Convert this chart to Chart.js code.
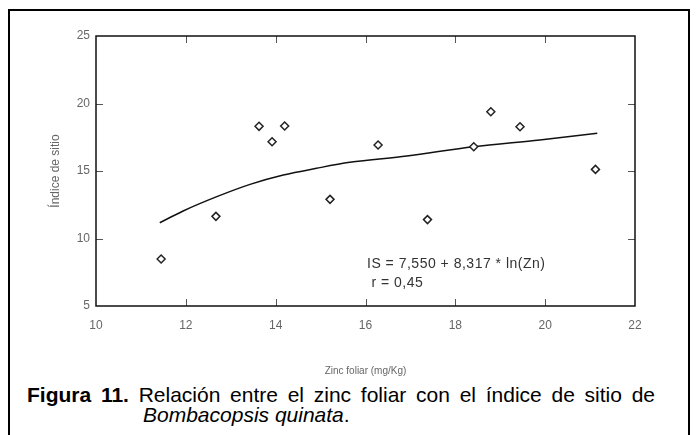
<!DOCTYPE html>
<html>
<head>
<meta charset="utf-8">
<script src="https://cdn.jsdelivr.net/npm/chart.js@4"></script>
<style>
  html, body { margin: 0; padding: 0; background: #fff; }
  body { width: 696px; height: 435px; position: relative; overflow: hidden; font-family: "Liberation Sans", Arial, sans-serif; }
  #frame { position: absolute; left: 8px; top: 9px; width: 678px; height: 440px; border: 2px solid #000; border-bottom: none; }
  #wrap { position: absolute; left: 0; top: 0; width: 696px; height: 377px; }
  #eq { position: absolute; left: 367px; top: 254px; font-size: 14px; line-height: 19px; letter-spacing: 0.5px; color: #333; white-space: pre; }
  #caption { position: absolute; left: 27px; top: 385px; width: 512px; padding-left: 116px; text-indent: -116px;
             font-size: 21px; line-height: 20px; text-align: justify; color: #000; }
</style>
</head>
<body>
<div id="frame"></div>
<div id="wrap"><canvas id="zincChart"></canvas></div>
<div id="eq">IS = 7,550 + 8,317 * ln(Zn)
 r = 0,45</div>
<div id="caption"><b>Figura 11.</b> Relación entre el zinc foliar con el índice de sitio de <i>Bombacopsis quinata</i>.</div>
<script>
// puntos observados (zinc foliar vs índice de sitio)
const zincX = [11.45, 12.67, 13.63, 13.92, 14.2, 15.21, 16.28, 17.38, 18.41, 18.79, 19.44, 21.12];
const sitioY = [8.48, 11.64, 18.31, 17.17, 18.33, 12.9, 16.93, 11.4, 16.8, 19.39, 18.28, 15.12];

// curva ajustada
const curveX = [11.42, 11.94, 12.69, 13.43, 14.17, 14.91, 15.65, 16.92, 18.4, 19.88, 21.16];
const curveY = [11.17, 12.04, 13.1, 14.01, 14.7, 15.2, 15.64, 16.11, 16.8, 17.3, 17.79];

const xTicks = [10, 12, 14, 16, 18, 20, 22];
const yTicks = [5, 10, 15, 20, 25];

// caja del gráfico con marcas hacia dentro en los cuatro lados
const boxPlugin = {
    id: 'boxTicks',
    afterDatasetsDraw(chart) {
        const { ctx, chartArea: a, scales } = chart;
        const len = 7;
        ctx.save();
        ctx.strokeStyle = '#555';
        ctx.lineWidth = 1;
        ctx.beginPath();
        xTicks.slice(1, -1).forEach(v => {
            const px = Math.round(scales.x.getPixelForValue(v)) + 0.5;
            ctx.moveTo(px, a.bottom); ctx.lineTo(px, a.bottom - len);
            ctx.moveTo(px, a.top); ctx.lineTo(px, a.top + len);
        });
        yTicks.slice(1, -1).forEach(v => {
            const py = Math.round(scales.y.getPixelForValue(v)) + 0.5;
            ctx.moveTo(a.left, py); ctx.lineTo(a.left + len, py);
            ctx.moveTo(a.right, py); ctx.lineTo(a.right - len, py);
        });
        ctx.stroke();
        ctx.strokeStyle = '#111';
        ctx.lineWidth = 1.5;
        ctx.strokeRect(a.left, a.top, a.right - a.left, a.bottom - a.top);
        ctx.restore();
    }
};

Chart.defaults.font.family = '"Liberation Sans", Arial, sans-serif';

const ctx = document.getElementById('zincChart').getContext('2d');
new Chart(ctx, {
    type: 'scatter',
    data: {
        datasets: [
            {
                label: 'ajuste',
                data: curveX.map((x, i) => ({ x: x, y: curveY[i] })),
                showLine: true,
                borderColor: '#111',
                borderWidth: 1.5,
                pointRadius: 0,
                cubicInterpolationMode: 'monotone',
                order: 2
            },
            {
                label: 'observado',
                data: zincX.map((x, i) => ({ x: x, y: sitioY[i] })),
                pointStyle: 'rectRot',
                pointRadius: 4,
                pointBorderWidth: 1.5,
                pointBackgroundColor: '#fff',
                pointBorderColor: '#222',
                order: 1
            }
        ]
    },
    options: {
        responsive: true,
        maintainAspectRatio: false,
        animation: false,
        layout: { padding: { left: 48, top: 36, right: 61, bottom: 0 } },
        plugins: { legend: { display: false }, tooltip: { enabled: false } },
        scales: {
            x: {
                min: 10, max: 22,
                afterFit: scale => { scale.height = 71; },
                afterBuildTicks: scale => { scale.ticks = xTicks.map(v => ({ value: v })); },
                grid: { display: false, drawTicks: false },
                border: { display: false },
                ticks: { color: '#666', font: { size: 12 }, padding: 12 },
                title: { display: true, text: 'Zinc foliar (mg/Kg)', color: '#666', font: { size: 10 }, padding: 0 }
            },
            y: {
                min: 5, max: 25,
                afterFit: scale => { scale.width = 48; },
                afterBuildTicks: scale => { scale.ticks = yTicks.map(v => ({ value: v })); },
                grid: { display: false, drawTicks: false },
                border: { display: false },
                ticks: { color: '#666', font: { size: 12 }, padding: 6 },
                title: { display: true, text: 'Índice de sitio', color: '#666', font: { size: 12 }, padding: 0 }
            }
        }
    },
    plugins: [boxPlugin]
});
</script>
</body>
</html>
